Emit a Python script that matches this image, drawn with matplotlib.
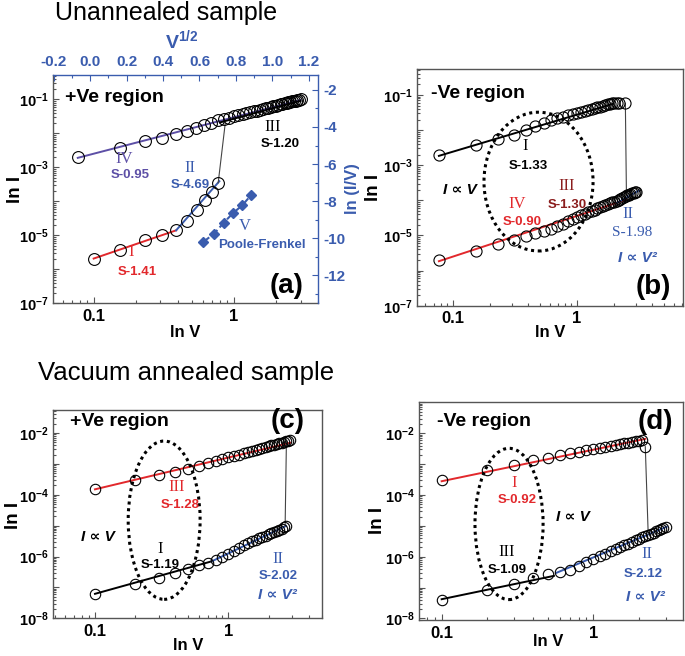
import numpy as np
import matplotlib.pyplot as plt
from matplotlib.ticker import FixedLocator, FixedFormatter, LogLocator, NullFormatter, FuncFormatter, MultipleLocator
from matplotlib.patches import Ellipse

plt.rcParams['font.family'] = ['Liberation Sans', 'DejaVu Sans']
plt.rcParams['mathtext.fontset'] = 'custom'
plt.rcParams['mathtext.bf'] = 'Liberation Sans:bold'
plt.rcParams['mathtext.rm'] = 'Liberation Sans'
plt.rcParams['mathtext.it'] = 'Liberation Sans:italic'

# ---------------- data ----------------
# (a) unannealed, +Ve
a_up_v = [0.077, 0.154, 0.231, 0.308, 0.385, 0.462, 0.539, 0.616, 0.693, 0.770, 0.847, 0.924, 1.00,
          1.08, 1.16, 1.23, 1.31, 1.39, 1.46, 1.54, 1.62, 1.69, 1.77, 1.85, 1.92, 2.00, 2.08, 2.16,
          2.23, 2.31, 2.39, 2.46, 2.54, 2.62, 2.69, 2.77, 2.85, 2.92, 3.00]
a_up_i = [1.95e-3, 3.8e-3, 5.9e-3, 7.4e-3, 9.3e-3, 1.17e-2, 1.48e-2, 1.74e-2, 2.04e-2, 2.40e-2,
          2.65e-2, 2.90e-2, 3.16e-2, 3.41e-2, 3.68e-2, 3.92e-2, 4.19e-2, 4.46e-2, 4.69e-2, 4.97e-2,
          5.24e-2, 5.47e-2, 5.74e-2, 6.01e-2, 6.25e-2, 6.53e-2, 6.80e-2, 7.08e-2, 7.33e-2, 7.60e-2,
          7.87e-2, 8.13e-2, 8.40e-2, 8.67e-2, 8.92e-2, 9.18e-2, 9.48e-2, 9.70e-2, 1.00e-1]
a_lo_v = [0.100, 0.155, 0.233, 0.310, 0.388, 0.465, 0.543, 0.620, 0.700, 0.775]
a_lo_i = [2.07e-6, 3.8e-6, 7.1e-6, 1.04e-5, 1.4e-5, 2.6e-5, 5.7e-5, 1.1e-4, 1.9e-4, 3.5e-4]
a_fit1 = ([0.1, 0.388], [2.07e-6, 1.4e-5])      # I  red
a_fit2 = ([0.388, 0.79], [1.4e-5, 3.9e-4])      # II blue
a_fit3 = ([0.80, 3.0], [2.1e-2, 9.0e-2])        # III black
a_fit4 = ([0.077, 3.0], [1.9e-3, 9.6e-2])       # IV purple
a_sw = ([0.87, 0.775], [1.95e-2, 3.5e-4])
pf_x = [0.62, 0.68, 0.734, 0.785, 0.835, 0.882]   # V^1/2
pf_y = [-10.2, -9.75, -9.15, -8.63, -8.22, -7.68]  # ln(I/V)

# (b) unannealed, -Ve
b_up_v = a_up_v[:28] + [2.45]
b_up_i = [1.94e-3, 3.7e-3, 5.5e-3, 7.2e-3, 1.0e-2, 1.29e-2, 1.55e-2, 1.95e-2, 2.18e-2, 2.41e-2,
          2.65e-2, 2.88e-2, 3.10e-2, 3.33e-2, 3.57e-2, 3.78e-2, 4.02e-2, 4.26e-2, 4.46e-2, 4.70e-2,
          4.93e-2, 5.13e-2, 5.37e-2, 5.60e-2, 5.80e-2, 6.00e-2, 6.10e-2, 6.00e-2, 5.80e-2]
b_lo_v = a_up_v
b_lo_i = [1.94e-6, 3.7e-6, 5.7e-6, 7.6e-6, 9.5e-6, 1.15e-5, 1.32e-5, 1.55e-5, 1.82e-5, 2.15e-5,
          2.6e-5, 3.0e-5, 3.4e-5, 3.8e-5, 4.2e-5, 4.6e-5, 5.0e-5, 5.4e-5, 5.9e-5, 6.3e-5,
          6.8e-5, 7.2e-5, 7.7e-5, 8.2e-5, 8.7e-5, 9.2e-5, 9.8e-5, 1.04e-4, 1.10e-4, 1.17e-4,
          1.24e-4, 1.31e-4, 1.38e-4, 1.45e-4, 1.52e-4, 1.58e-4, 1.64e-4, 1.70e-4, 1.75e-4]
b_fit1 = ([0.077, 1.95], [1.85e-3, 5.6e-2])     # I black
b_fit2 = ([0.077, 2.5], [1.85e-6, 1.05e-4])     # IV/III red
b_fit3 = ([2.1, 3.15], [8.5e-5, 1.9e-4])        # II blue
b_sw = ([2.45, 2.5], [5.8e-2, 1.35e-4])

# (c) vacuum annealed, +Ve
c_up_v = [0.1, 0.2, 0.3, 0.4, 0.5, 0.6, 0.7, 0.8, 0.9, 1.0, 1.1, 1.2, 1.3, 1.4, 1.5, 1.6, 1.7, 1.8,
          1.9, 2.0, 2.1, 2.2, 2.3, 2.4, 2.5, 2.6, 2.7, 2.8, 2.9]
c_up_i = [1.5e-4, 3.0e-4, 4.4e-4, 5.6e-4, 6.8e-4, 8.7e-4, 1.05e-3, 1.23e-3, 1.42e-3, 1.62e-3,
          1.81e-3, 2.01e-3, 2.22e-3, 2.43e-3, 2.64e-3, 2.86e-3, 3.07e-3, 3.29e-3, 3.52e-3, 3.74e-3,
          3.97e-3, 4.2e-3, 4.44e-3, 4.67e-3, 4.91e-3, 5.14e-3, 5.37e-3, 5.6e-3, 5.9e-3]
c_lo_v = c_up_v[:27]
c_lo_i = [6.2e-8, 1.28e-7, 2.0e-7, 3.0e-7, 4.0e-7, 5.2e-7, 6.3e-7, 7.7e-7, 9.9e-7, 1.24e-6,
          1.5e-6, 1.9e-6, 2.3e-6, 2.7e-6, 3.1e-6, 3.5e-6, 3.9e-6, 4.4e-6, 4.7e-6, 5.2e-6,
          5.8e-6, 6.1e-6, 6.6e-6, 7.2e-6, 7.9e-6, 9.0e-6, 9.8e-6]
c_fit1 = ([0.1, 2.9], [1.5e-4, 4.8e-3])         # III red
c_fit2 = ([0.1, 0.75], [6.2e-8, 7.0e-7])        # I black
c_fit3 = ([0.75, 2.7], [7.0e-7, 9.8e-6])        # II blue
c_sw = ([2.72, 2.66], [5.4e-3, 9.8e-6])

# (d) vacuum annealed, -Ve
d_up_v = c_up_v[:22]
d_up_i = [3.0e-4, 6.5e-4, 9.3e-4, 1.35e-3, 1.55e-3, 2.0e-3, 2.29e-3, 2.57e-3, 2.85e-3, 3.13e-3,
          3.4e-3, 3.67e-3, 3.94e-3, 4.2e-3, 4.47e-3, 4.73e-3, 4.99e-3, 5.25e-3, 5.5e-3, 5.75e-3,
          6.0e-3, 3.7e-3]
d_lo_v = c_up_v + [3.0]
d_lo_i = [4.1e-8, 8.1e-8, 1.35e-7, 2.0e-7, 2.7e-7, 3.2e-7, 3.8e-7, 5.1e-7, 6.6e-7, 8.3e-7,
          1.03e-6, 1.24e-6, 1.49e-6, 1.75e-6, 2.04e-6, 2.35e-6, 2.67e-6, 3.03e-6, 3.43e-6, 3.83e-6,
          4.26e-6, 4.71e-6, 5.2e-6, 5.4e-6, 5.7e-6, 6.6e-6, 7.4e-6, 8.0e-6, 8.7e-6, 9.3e-6]
d_fit1 = ([0.1, 2.2], [2.8e-4, 6.6e-3])         # I red
d_fit2 = ([0.1, 0.55], [4.2e-8, 2.4e-7])        # III black
d_fit3 = ([0.57, 3.05], [3.0e-7, 9.4e-6])       # II blue
d_sw = ([2.2, 2.3], [3.7e-3, 5.3e-6])

# ---------------- styling ----------------
RED = '#e2282c'
BLUE = '#3a5cae'
PURPLE = '#5d4fa6'
DRED = '#8b1d1d'
GRAY = '#555555'

W, H = 685, 656
fig = plt.figure(figsize=(6.85, 6.56), dpi=100)


def box(l, t, r, b):
    return [l / W, 1 - b / H, (r - l) / W, (b - t) / H]


def txt(x, y, s, color='black', size=9.5, weight='bold', family=None, **kw):
    kw.setdefault('ha', 'center')
    kw.setdefault('va', 'center')
    if family is not None:
        kw['family'] = family
    fig.text(x / W, 1 - y / H, s, color=color, fontsize=size, fontweight=weight, **kw)


def roman(x, y, s, color):
    txt(x, y, s, color=color, size=12, weight='normal', family='Liberation Serif')


def setup(ax, xlim, ylim, labeled):
    ax.set_xscale('log')
    ax.set_yscale('log')
    ax.set_xlim(*xlim)
    ax.set_ylim(*ylim)
    ax.xaxis.set_major_locator(FixedLocator([0.1, 1]))
    ax.xaxis.set_major_formatter(FixedFormatter(['0.1', '1']))
    ax.xaxis.set_minor_locator(LogLocator(base=10, subs=np.arange(2, 10), numticks=20))
    ax.xaxis.set_minor_formatter(NullFormatter())
    ax.yaxis.set_major_locator(FixedLocator([10.0 ** k for k in range(-9, 1)]))
    ax.yaxis.set_major_formatter(FuncFormatter(
        lambda v, p: r'$\mathbf{10^{%d}}$' % round(np.log10(v)) if round(np.log10(v)) in labeled else ''))
    ax.yaxis.set_minor_locator(LogLocator(base=10, subs=np.arange(2, 10), numticks=20))
    ax.yaxis.set_minor_formatter(NullFormatter())
    ax.tick_params(which='both', direction='in', top=False, right=False, colors=GRAY,
                   labelcolor='black', width=0.8)
    ax.tick_params(which='major', length=4, pad=4)
    ax.tick_params(axis='x', which='major', labelsize=12)
    ax.tick_params(axis='y', which='major', labelsize=10.5, pad=3)
    for lab in ax.get_xticklabels():
        lab.set_fontweight('bold')
    for sp in ax.spines.values():
        sp.set_color(GRAY)
        sp.set_linewidth(1.0)


def circles(ax, v, i, ms=8):
    ax.plot(v, i, 'o', ms=ms, mfc='none', mec='black', mew=0.8, zorder=3)


def line(ax, fit, color, lw=1.4):
    ax.plot(fit[0], fit[1], '-', color=color, lw=lw, zorder=2)


def oval(ax, cx, cy, w, h):
    ax.add_patch(Ellipse((cx, cy), w, h, transform=ax.transAxes, fill=False,
                         ls=(0, (1, 1.2)), lw=2.2, ec='black', zorder=4))


ax_a = fig.add_axes(box(52.7, 75, 318, 303.3))
ax_b = fig.add_axes(box(416.7, 69.3, 682.7, 305.7))
ax_c = fig.add_axes(box(53.3, 410, 321.7, 618.3))
ax_d = fig.add_axes(box(419, 401.7, 683, 620))

setup(ax_a, (0.051, 4.0), (1e-7, 0.52), [-1, -3, -5, -7])
setup(ax_b, (0.051, 7.1), (1e-7, 0.54), [-1, -3, -5, -7])
setup(ax_c, (0.0487, 5.0), (1e-8, 0.0555), [-2, -4, -6, -8])
setup(ax_d, (0.0709, 3.9), (8.9e-9, 0.106), [-2, -4, -6, -8])

# ---- (a)
line(ax_a, a_fit4, PURPLE)
line(ax_a, a_fit3, 'black')
line(ax_a, a_fit1, RED)
line(ax_a, a_fit2, BLUE)
ax_a.plot(a_sw[0], a_sw[1], '-', color='#444444', lw=0.8)
circles(ax_a, a_up_v, a_up_i, 8.5)
circles(ax_a, a_lo_v, a_lo_i, 8.5)
ax_a.spines['top'].set_visible(False)
ax_a.spines['right'].set_visible(False)

ax_pf = fig.add_axes(box(52.7, 75, 318, 303.3))
ax_pf.patch.set_visible(False)
ax_pf.spines['left'].set_visible(False)
ax_pf.spines['bottom'].set_visible(False)
for s in ('top', 'right'):
    ax_pf.spines[s].set_color(BLUE)
    ax_pf.spines[s].set_linewidth(1.0)
ax_pf.xaxis.tick_top()
ax_pf.yaxis.tick_right()
ax_pf.set_xlim(-0.205, 1.25)
ax_pf.set_ylim(-13.5, -1.2)
ax_pf.xaxis.set_major_locator(MultipleLocator(0.2))
ax_pf.xaxis.set_minor_locator(MultipleLocator(0.1))
ax_pf.yaxis.set_major_locator(MultipleLocator(2))
ax_pf.yaxis.set_minor_locator(MultipleLocator(1))
ax_pf.xaxis.set_major_formatter(FuncFormatter(lambda v, p: '%.1f' % v if abs(v) > 1e-9 else '0.0'))
ax_pf.yaxis.set_major_formatter(FuncFormatter(lambda v, p: '%d' % round(v)))
ax_pf.tick_params(which='both', direction='in', colors=BLUE, width=0.8)
ax_pf.tick_params(which='major', length=4, labelsize=11, pad=4)
ax_pf.tick_params(which='minor', length=2)
for lab in ax_pf.get_xticklabels() + ax_pf.get_yticklabels():
    lab.set_fontweight('bold')
ax_pf.plot(pf_x, pf_y, '--', color=BLUE, lw=1.5, marker='D', ms=5, mfc=BLUE, mec=BLUE)

txt(182, 40, r'$\mathbf{V^{1/2}}$', color=BLUE, size=14)
txt(353, 189, 'ln (I/V)', color=BLUE, size=12, rotation=90)
txt(65, 97, '+Ve region', size=14, ha='left')
roman(273, 127, 'III', 'black')
txt(280, 144, 'S-1.20')
roman(124, 159, 'IV', PURPLE)
txt(130, 175, 'S-0.95', color=PURPLE)
roman(190, 168, 'II', BLUE)
txt(190, 185, 'S-4.69', color=BLUE)
roman(131, 252, 'I', RED)
txt(137, 272, 'S-1.41', color=RED)
roman(245, 226, 'V', BLUE)
txt(262, 245, 'Poole-Frenkel', color=BLUE)
txt(287, 286, '(a)', size=20)
txt(15, 189, 'ln I', size=13.5, rotation=90)
txt(185, 333, 'ln V', size=12)

# ---- (b)
line(ax_b, b_fit1, 'black')
line(ax_b, b_fit2, RED)
line(ax_b, b_fit3, BLUE)
ax_b.plot(b_sw[0], b_sw[1], '-', color='#444444', lw=0.8)
circles(ax_b, b_up_v, b_up_i, 8)
circles(ax_b, b_lo_v, b_lo_i, 8)
oval(ax_b, 0.458, 0.525, 0.41, 0.587)
txt(431, 93, '-Ve region', size=14, ha='left')
roman(525, 146, 'I', 'black')
txt(528, 166, 'S-1.33')
txt(460, 190, 'I \u221d V', size=11, style='italic')
roman(517, 204, 'IV', RED)
txt(522, 222, 'S-0.90', color=RED)
roman(567, 186, 'III', DRED)
txt(567, 205, 'S-1.30', color=DRED)
roman(628, 214, 'II', BLUE)
txt(632, 232, 'S-1.98', color=BLUE, size=11, weight='normal', family='Liberation Serif')
txt(637, 258, 'I \u221d V\u00b2', color=BLUE, size=11, style='italic')
txt(653, 287, '(b)', size=20)
txt(373, 187, 'ln I', size=13.5, rotation=90)
txt(550, 333, 'ln V', size=12)

# ---- titles
txt(166, 13, 'Unannealed sample', size=18, weight='normal')
txt(186, 373, 'Vacuum annealed sample', size=18.5, weight='normal')

# ---- (c)
line(ax_c, c_fit1, RED)
line(ax_c, c_fit2, 'black')
line(ax_c, c_fit3, BLUE)
ax_c.plot(c_sw[0], c_sw[1], '-', color='#444444', lw=0.8)
circles(ax_c, c_up_v, c_up_i, 7.5)
circles(ax_c, c_lo_v, c_lo_i, 7.5)
oval(ax_c, 0.413, 0.471, 0.268, 0.76)
txt(70, 422, '+Ve region', size=14, ha='left')
txt(288, 421, '(c)', size=20)
roman(177, 487, 'III', RED)
txt(180, 505, 'S-1.28', color=RED)
txt(98, 537, 'I \u221d V', size=11, style='italic')
roman(160, 549, 'I', 'black')
txt(160, 565, 'S-1.19')
roman(278, 559, 'II', BLUE)
txt(278, 576, 'S-2.02', color=BLUE)
txt(277, 595, 'I \u221d V\u00b2', color=BLUE, size=11, style='italic')
txt(13, 515, 'ln I', size=13.5, rotation=90)
txt(188, 645, 'ln V', size=12)

# ---- (d)
line(ax_d, d_fit1, RED)
line(ax_d, d_fit2, 'black')
line(ax_d, d_fit3, BLUE)
ax_d.plot(d_sw[0], d_sw[1], '-', color='#444444', lw=0.8)
circles(ax_d, d_up_v, d_up_i, 7.5)
circles(ax_d, d_lo_v, d_lo_i, 7.5)
oval(ax_d, 0.341, 0.44, 0.258, 0.693)
txt(437, 421, '-Ve region', size=14, ha='left')
txt(655, 422, '(d)', size=20)
roman(514, 483, 'I', RED)
txt(517, 500, 'S-0.92', color=RED)
txt(573, 517, 'I \u221d V', size=11, style='italic')
roman(507, 552, 'III', 'black')
txt(507, 570, 'S-1.09')
roman(647, 554, 'II', BLUE)
txt(643, 574, 'S-2.12', color=BLUE)
txt(645, 597, 'I \u221d V\u00b2', color=BLUE, size=11, style='italic')
txt(378, 520, 'ln I', size=13.5, rotation=90)
txt(548, 642, 'ln V', size=12)

fig.savefig('out.png', dpi=100)
